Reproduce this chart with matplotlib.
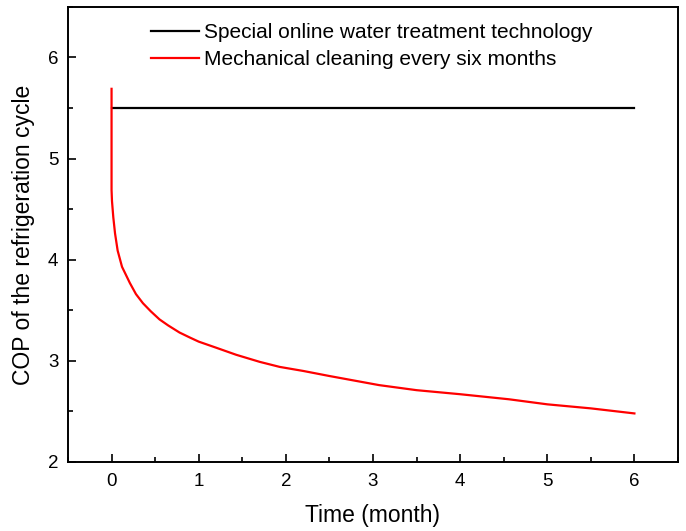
import matplotlib.pyplot as plt
from matplotlib.ticker import MultipleLocator

plt.rcParams['font.family'] = ['Liberation Sans', 'DejaVu Sans']

# online water treatment: flat COP
online_t = [0, 6]
online_cop = [5.5, 5.5]

# mechanical cleaning: COP
clean_t = [0, 0.0, 0.005, 0.02, 0.04, 0.07, 0.12, 0.21, 0.28, 0.36, 0.45,
           0.55, 0.65, 0.78, 0.9, 1.0, 1.2, 1.43, 1.7, 1.93, 2.2, 2.5,
           3.07, 3.5, 4.0, 4.56, 5.0, 5.5, 6.0]
clean_cop = [5.69, 4.69, 4.58, 4.42, 4.26, 4.09, 3.93, 3.77, 3.66, 3.57, 3.49,
             3.41, 3.35, 3.28, 3.23, 3.19, 3.13, 3.06, 2.99, 2.94, 2.90, 2.85,
             2.76, 2.71, 2.67, 2.62, 2.57, 2.53, 2.48]

fig = plt.figure(figsize=(6.86, 5.31), dpi=100)
ax = fig.add_axes([0.0991, 0.130, 0.8892, 0.857])

ax.plot(online_t, online_cop, color='black', lw=1.6,
        label='Special online water treatment technology')
ax.plot(clean_t, clean_cop, color='red', lw=1.6,
        label='Mechanical cleaning every six months')

ax.set_xlim(-0.5, 6.5)
ax.set_ylim(2, 6.5)
ax.xaxis.set_major_locator(MultipleLocator(1))
ax.xaxis.set_minor_locator(MultipleLocator(0.5))
ax.yaxis.set_major_locator(MultipleLocator(1))
ax.yaxis.set_minor_locator(MultipleLocator(0.5))
ax.tick_params(which='both', direction='in', top=False, right=False,
               labelsize=13.5, width=1.2)
ax.tick_params(which='major', length=6)
ax.tick_params(which='minor', length=3.5)
ax.tick_params(axis='x', pad=8)
ax.tick_params(axis='y', pad=7)
for s in ax.spines.values():
    s.set_linewidth(1.4)

ax.set_xlabel('Time (month)', fontsize=16.5, labelpad=10)
ax.set_ylabel('COP of the refrigeration cycle', fontsize=16.5, labelpad=9)

ax.legend(loc='upper left', bbox_to_anchor=(0.220, 0.957),
          bbox_transform=fig.transFigure, frameon=False, fontsize=15,
          handlelength=2.3, handletextpad=0.25, labelspacing=0.4,
          borderpad=0, borderaxespad=0)

fig.savefig('out.png', dpi=100)
